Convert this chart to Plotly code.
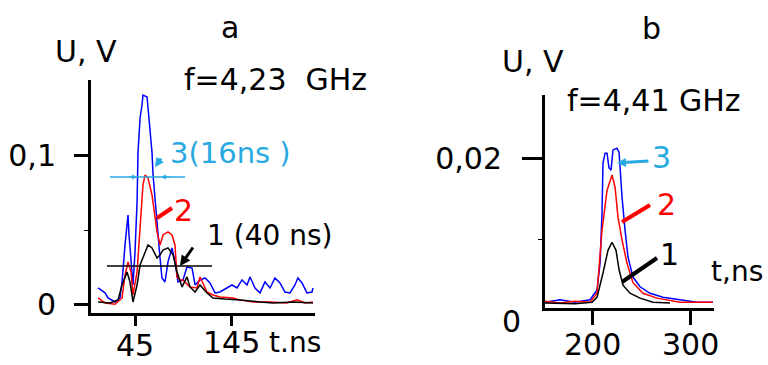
import plotly.graph_objects as go

# ---------------- data: panel a (f = 4,23 GHz) ----------------
t_a_blue = [6.9, 14.1, 17.2, 24.4, 29.5, 31.6, 34.7, 37.8, 38.8, 41.9, 42.9, 45.0, 47.1, 48.1,
            50.2, 52.2, 53.2, 57.4, 58.4, 60.5, 62.5, 63.6, 66.6, 68.7, 70.8, 72.8, 75.9, 79.0,
            83.1, 86.2, 89.3, 94.5, 98.6, 103.8, 106.9, 112.0, 117.2, 122.3, 127.5, 132.6,
            139.8, 145.0, 150.2, 155.3, 160.5, 163.6, 168.7, 173.9, 179.0, 184.2, 189.3, 194.5,
            199.6, 204.8, 209.9, 213.0, 217.2, 222.3, 227.5, 228.5]
u_a_blue = [0.0114, 0.0081, 0.0047, 0.0020, 0.0047, 0.0154, 0.0403, 0.0604, 0.0470, 0.0221,
            0.0134, 0.0356, 0.0691, 0.1027, 0.1255, 0.1342, 0.1409, 0.1396, 0.1322, 0.1161,
            0.1027, 0.0872, 0.0624, 0.0470, 0.0315, 0.0181, 0.0154, 0.0289, 0.0383, 0.0289,
            0.0154, 0.0168, 0.0255, 0.0248, 0.0134, 0.0168, 0.0181, 0.0148, 0.0081, 0.0087,
            0.0114, 0.0134, 0.0114, 0.0168, 0.0134, 0.0188, 0.0114, 0.0081, 0.0154, 0.0114,
            0.0181, 0.0148, 0.0087, 0.0081, 0.0134, 0.0181, 0.0148, 0.0081, 0.0087, 0.0114]

t_a_red = [6.9, 14.1, 24.4, 31.6, 34.7, 37.8, 40.9, 42.9, 47.1, 50.2, 53.2, 55.3, 58.4, 62.5,
           64.6, 67.7, 70.8, 73.9, 79.0, 83.1, 86.2, 88.3, 91.4, 94.5, 101.7, 108.9, 112.0,
           115.1, 119.2, 125.4, 132.6, 146.0, 153.2, 166.6, 184.2, 201.7, 212.0, 220.3, 228.5]
u_a_red = [0.0047, 0.0013, 0.0005, 0.0047, 0.0201, 0.0289, 0.0221, 0.0067, 0.0221, 0.0537,
           0.0805, 0.0872, 0.0852, 0.0738, 0.0624, 0.0490, 0.0403, 0.0470, 0.0490, 0.0470,
           0.0403, 0.0188, 0.0168, 0.0168, 0.0121, 0.0114, 0.0188, 0.0148, 0.0087, 0.0067,
           0.0054, 0.0047, 0.0034, 0.0020, 0.0020, 0.0013, 0.0034, 0.0013, 0.0020]

t_a_black = [6.9, 19.2, 27.5, 31.6, 36.8, 39.8, 42.9, 47.1, 50.2, 55.3, 58.4, 62.5, 67.7, 70.8,
             73.9, 79.0, 84.2, 88.3, 93.5, 98.6, 101.7, 106.9, 112.0, 119.2, 125.4, 137.8,
             153.2, 173.9, 187.3, 207.9, 228.5]
u_a_black = [0.0020, 0.0013, 0.0034, 0.0134, 0.0221, 0.0154, 0.0020, 0.0134, 0.0268, 0.0356,
             0.0403, 0.0383, 0.0315, 0.0336, 0.0369, 0.0383, 0.0336, 0.0221, 0.0121, 0.0188,
             0.0121, 0.0087, 0.0134, 0.0081, 0.0047, 0.0040, 0.0034, 0.0020, 0.0013, 0.0020,
             0.0013]

# ---------------- data: panel b (f = 4,41 GHz) ----------------
t_b_blue = [152, 167.3, 182.7, 198, 205.1, 208.2, 210.2, 211.2, 213.3, 215.3, 217.3, 219.4,
            221.4, 225.5, 227.6, 230.6, 233.7, 236.7, 241.8, 249, 259.2, 272.4, 289.8, 307.1, 323.5]
u_b_blue = [0.0022, 0.0025, 0.0022, 0.0025, 0.0037, 0.0070, 0.0132, 0.0194, 0.0206, 0.0206,
            0.0188, 0.0185, 0.0210, 0.0212, 0.0207, 0.0152, 0.0111, 0.0078, 0.0053, 0.0041,
            0.0033, 0.0028, 0.0025, 0.0022, 0.0022]

t_b_red = [152, 167.3, 182.7, 198, 205.1, 210.2, 215.3, 218.4, 220.4, 223.5, 226.5, 230.6,
           235.7, 241.8, 252, 266.3, 289.8, 323.5]
u_b_red = [0.0023, 0.0021, 0.0023, 0.0022, 0.0033, 0.0111, 0.0160, 0.0173, 0.0179, 0.0164,
           0.0127, 0.0099, 0.0070, 0.0046, 0.0033, 0.0027, 0.0022, 0.0022]

t_b_black = [152, 182.7, 200, 205.1, 211.2, 216.3, 220.4, 224.5, 227.6, 231.6, 238.8, 249,
             262.2, 279.6]
u_b_black = [0.0021, 0.0020, 0.0022, 0.0028, 0.0058, 0.0086, 0.0096, 0.0086, 0.0062, 0.0043,
             0.0033, 0.0027, 0.0022, 0.0021]

# tick labels
a_xticks = [45, 145]
a_xticklabels = ["45", "145"]
a_yticks = [0, 0.1]
a_yticklabels = ["0", "0,1"]
b_xticks = [200, 300]
b_xticklabels = ["200", "300"]
b_yticks = [0.02]
b_yticklabels = ["0,02"]

BLUE = "#0000ff"
RED = "#ff0000"
CYAN = "#29a9e1"
FONT = "DejaVu Sans"
W, H = 768, 365


def px(x):
    return x / W


def py(y):
    return 1 - y / H


fig = go.Figure()
lw = 1.5
fig.add_trace(go.Scatter(x=t_a_blue, y=u_a_blue, mode="lines", line=dict(color=BLUE, width=lw), xaxis="x", yaxis="y"))
fig.add_trace(go.Scatter(x=t_a_red, y=u_a_red, mode="lines", line=dict(color=RED, width=lw), xaxis="x", yaxis="y"))
fig.add_trace(go.Scatter(x=t_a_black, y=u_a_black, mode="lines", line=dict(color="black", width=lw), xaxis="x", yaxis="y"))
fig.add_trace(go.Scatter(x=t_b_blue, y=u_b_blue, mode="lines", line=dict(color=BLUE, width=lw), xaxis="x2", yaxis="y2"))
fig.add_trace(go.Scatter(x=t_b_red, y=u_b_red, mode="lines", line=dict(color=RED, width=lw), xaxis="x2", yaxis="y2"))
fig.add_trace(go.Scatter(x=t_b_black, y=u_b_black, mode="lines", line=dict(color="black", width=lw), xaxis="x2", yaxis="y2"))

tickfont = dict(family=FONT, size=30, color="black")
common = dict(showline=True, linewidth=3, linecolor="black", ticks="outside", tickwidth=3,
              tickcolor="black", showgrid=False, zeroline=False, tickfont=tickfont,
              tickmode="array", automargin=False)

fig.update_layout(
    width=W, height=H, margin=dict(l=0, r=0, t=0, b=0, autoexpand=False),
    paper_bgcolor="white", plot_bgcolor="white", showlegend=False,
    xaxis=dict(domain=[px(91), px(315)], range=[-0.4, 230.6], anchor="y",
               tickvals=a_xticks, showticklabels=False, ticklen=10, **common),
    yaxis=dict(domain=[py(313), py(80)], range=[-0.0054, 0.151], anchor="x",
               tickvals=a_yticks, ticktext=a_yticklabels, ticklen=14, ticklabelstandoff=12,
               minor=dict(tickmode="array", tickvals=[0.05], ticks="outside", ticklen=4,
                          tickwidth=1, tickcolor="black", showgrid=False), **common),
    xaxis2=dict(domain=[px(545), px(714)], range=[152, 324.5], anchor="y2",
                tickvals=b_xticks, showticklabels=False, ticklen=14, **common),
    yaxis2=dict(domain=[py(308), py(95)], range=[0.00148, 0.02778], anchor="x2",
                tickvals=b_yticks, ticktext=b_yticklabels, ticklen=20, ticklabelstandoff=14,
                minor=dict(tickmode="array", tickvals=[0.01], ticks="outside", ticklen=4,
                           tickwidth=1, tickcolor="black", showgrid=False), **common),
)


def text(s, x, y, color="black", size=30, xanchor="center"):
    fig.add_annotation(text=s, x=px(x), y=py(y), xref="paper", yref="paper", showarrow=False,
                       xanchor=xanchor, yanchor="middle", font=dict(family=FONT, size=size, color=color))


def arrow(xh, yh, xt, yt, color, width, head=2, size=1.0):
    fig.add_annotation(text="", x=px(xh), y=py(yh), xref="paper", yref="paper", showarrow=True,
                       ax=xt - xh, ay=yt - yh, axref="pixel", ayref="pixel",
                       arrowcolor=color, arrowwidth=width, arrowhead=head, arrowsize=size)


def seg(x0, y0, x1, y1, color, width):
    fig.add_shape(type="line", x0=px(x0), y0=py(y0), x1=px(x1), y1=py(y1), xref="paper",
                  yref="paper", line=dict(color=color, width=width))


# x tick labels placed at the tick values through the axes
for val, lab, yc in zip(a_xticks, a_xticklabels, [345, 342]):
    fig.add_annotation(text=lab, x=val, xref="x", y=py(yc), yref="paper", showarrow=False,
                       xanchor="center", yanchor="middle", font=tickfont)
for val, lab in zip(b_xticks, b_xticklabels):
    fig.add_annotation(text=lab, x=val, xref="x2", y=py(344), yref="paper", showarrow=False,
                       xanchor="center", yanchor="middle", font=tickfont)

# panel a texts
text("a", 230, 27)
text("U, V", 86, 52)
text("f=4,23  GHz", 275, 79)
text("3(16ns )", 168, 153, color=CYAN, size=29, xanchor="left")
text("2", 183, 210, color=RED)
text("1 (40 ns)", 205, 235, size=28, xanchor="left")
text("t.ns", 295, 342, size=28)

# panel a markers
seg(110, 177, 185, 177, CYAN, 1.5)
arrow(137, 177, 127, 177, CYAN, 1, head=2, size=1)
arrow(161, 177, 171, 177, CYAN, 1, head=2, size=1)
arrow(155, 167, 162, 157, CYAN, 3, head=2, size=0.6)
seg(157, 218, 172, 208, RED, 4)
seg(107, 266, 212, 266, "black", 1.5)
arrow(180, 266, 194, 246, "black", 3, head=2, size=0.7)

# panel b texts
text("b", 651, 28)
text("U, V", 533, 62)
text("f=4,41 GHz", 654, 100)
text("0", 511, 321)
text("3", 661, 157, color=CYAN)
text("2", 666, 204, color=RED)
text("1", 669, 254)
text("t,ns", 737, 271, size=28)

# panel b markers
arrow(617, 163, 650, 161, CYAN, 3, head=2, size=0.6)
seg(622, 222, 650, 205, RED, 4)
seg(622, 282, 657, 258, "black", 4)

fig.write_html("out.html")
